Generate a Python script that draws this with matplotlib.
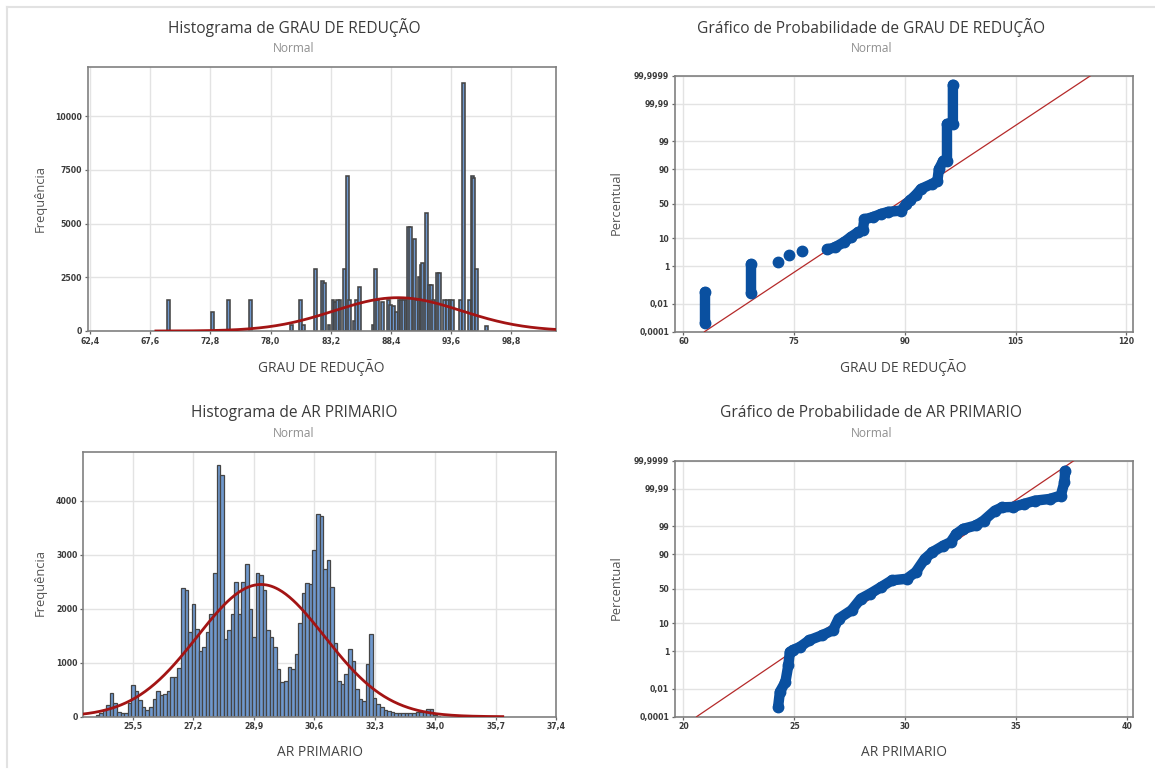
import numpy as np
import matplotlib
matplotlib.use("Agg")
import matplotlib.pyplot as plt
from matplotlib.lines import Line2D
from statistics import NormalDist

plt.rcParams['font.family'] = ['Open Sans', 'DejaVu Sans']

# ---- dados ----
# histograma GRAU DE REDUÇÃO (centro da barra, frequencia)
grau_centros = [69.2, 73.0, 74.4, 76.3, 79.8, 80.6, 80.85, 81.85, 82.5, 82.7, 83.05,
                83.4, 83.6, 83.8, 84.0, 84.4, 84.62, 84.85, 85.25, 85.45, 85.68,
                86.85, 87.05, 87.25, 87.7, 88.2, 88.4, 88.6, 88.85, 89.1, 89.3,
                89.5, 89.7, 89.9, 90.1, 90.4, 90.6, 90.83, 91.0, 91.12, 91.3,
                91.5, 91.7, 91.9, 92.1, 92.45, 92.62, 93.05, 93.27, 93.5, 93.72,
                94.43, 94.65, 95.22, 95.42, 95.55, 95.82, 96.68]
grau_freq = [1430, 870, 1430, 1430, 300, 1430, 300, 2880, 2350, 2250, 300,
             1430, 1350, 1430, 1430, 2880, 7230, 1430, 460, 1430, 2070,
             300, 2880, 1430, 1350, 1430, 1230, 1150, 870, 1430, 1430,
             1430, 1430, 4830, 4830, 4300, 1430, 2530, 3070, 3170, 1430,
             5480, 2150, 2150, 1430, 2690, 2690, 1430, 1430, 1430, 1430,
             1430, 11550, 1430, 7230, 7130, 2880, 230]

# histograma AR PRIMARIO (classes de 0,1)
ar_centros = [24.5, 24.6, 24.7, 24.8, 24.9, 25.0, 25.1, 25.2, 25.3, 25.4,
              25.5, 25.6, 25.7, 25.8, 25.9, 26.0, 26.1, 26.2, 26.3, 26.4,
              26.5, 26.6, 26.7, 26.8, 26.9, 27.0, 27.1, 27.2, 27.3, 27.4,
              27.5, 27.6, 27.7, 27.8, 27.9, 28.0, 28.1, 28.2, 28.3, 28.4,
              28.5, 28.6, 28.7, 28.8, 28.9, 29.0, 29.1, 29.2, 29.3, 29.4,
              29.5, 29.6, 29.7, 29.8, 29.9, 30.0, 30.1, 30.2, 30.3, 30.4,
              30.5, 30.6, 30.7, 30.8, 30.9, 31.0, 31.1, 31.2, 31.3, 31.4,
              31.5, 31.6, 31.7, 31.8, 31.9, 32.0, 32.1, 32.2, 32.3, 32.4,
              32.5, 32.6, 32.7, 32.8, 32.9, 33.0, 33.1, 33.2, 33.3, 33.4,
              33.5, 33.6, 33.7, 33.8, 33.9, 34.0, 34.1]
ar_freq = [30, 60, 120, 225, 440, 255, 80, 70, 70, 250,
           595, 485, 310, 175, 125, 185, 330, 485, 400, 420,
           485, 730, 730, 900, 2385, 2340, 1565, 2090, 1630, 1225,
           1290, 1565, 1895, 2660, 4660, 4475, 1440, 1600, 1905, 2495,
           1905, 2495, 2825, 2000, 1475, 2660, 2620, 2340, 1600, 1475,
           1290, 885, 640, 670, 915, 885, 1165, 1735, 2290, 2475,
           2465, 3095, 3750, 3720, 2740, 2900, 2400, 1360, 670, 605,
           790, 1255, 1040, 515, 330, 285, 980, 1525, 340, 235,
           175, 125, 100, 80, 70, 60, 60, 60, 60, 70,
           80, 90, 100, 150, 150, 40, 20]

# ajuste normal (media, desvio, altura do pico no histograma)
grau_media, grau_dp, grau_pico = 89.0, 5.5, 1550
ar_media, ar_dp, ar_pico = 29.1, 1.79, 2450

# grafico de probabilidade GRAU (grupos de pontos: x, percentual)
grau_prob_grupos = [
    ([62.9, 62.9], [0.00045, 0.054]),
    ([69.1, 69.1], [0.043, 1.3]),
    ([72.8], [1.5]),
    ([74.3], [2.8]),
    ([76.1], [4.0]),
    ([79.5, 80.5, 81.8, 82.7, 83.7, 84.3, 84.5, 85.7, 86.7, 87.7, 89.5, 90.2,
      90.7, 91.5, 92.2, 93.7, 94.4, 94.6, 95.2, 95.7, 95.7, 96.5, 96.5],
     [4.5, 5.2, 7.8, 10.9, 14.7, 16, 28, 31, 35, 38, 40, 50,
      55, 63, 71, 77, 80, 90, 94.5, 94.5, 99.85, 99.85, 99.9995]),
]

# grafico de probabilidade AR PRIMARIO
ar_prob_x = [24.27, 24.35, 24.6, 24.73, 24.8, 24.93, 25.26, 25.68, 26.26, 26.75,
             27.0, 27.58, 28.0, 28.41, 28.91, 29.4, 30.07, 30.48, 30.89, 31.23,
             31.72, 32.05, 32.3, 32.63, 33.2, 33.54, 34.04, 34.37, 34.87, 35.36,
             35.86, 36.52, 37.02, 37.18, 37.22]
ar_prob_pct = [0.0006, 0.0064, 0.027, 0.23, 0.94, 1.13, 1.54, 2.8, 4.2, 6.2,
               13.3, 21.2, 35.6, 42.5, 52.4, 62.2, 64.4, 73.2, 86.7, 91.3,
               94.5, 95.8, 97.9, 98.7, 99.06, 99.43, 99.81, 99.874, 99.88, 99.918,
               99.946, 99.957, 99.973, 99.996, 99.9994]

pct_ticks = [0.0001, 0.01, 1, 10, 50, 90, 99, 99.99, 99.9999]
pct_labels = ["0,0001", "0,01", "1", "10", "50", "90", "99", "99,99", "99,9999"]

# ---- figura ----
W, H = 1155, 769
fig = plt.figure(figsize=(W / 100, H / 100), dpi=100)

AZUL_BARRA = '#6f98cd'
CINZA_BORDA = '#454545'
VERMELHO = '#a31414'
AZUL_PONTO = '#0a50a0'
nd = NormalDist()


def eixo(x0, y0, x1, y1):
    ax = fig.add_axes([x0 / W, 1 - y1 / H, (x1 - x0) / W, (y1 - y0) / H])
    for s in ax.spines.values():
        s.set_color('#808080')
        s.set_linewidth(1.2)
    ax.grid(True, color='#e3e3e3', linewidth=1.0)
    ax.set_axisbelow(True)
    ax.tick_params(direction='out', length=2.5, width=0.9, color='#666666',
                   labelsize=5.6, labelcolor='#3a3a3a', pad=1.5)
    return ax


def fonte_ticks(ax):
    for t in ax.get_xticklabels() + ax.get_yticklabels():
        t.set_fontweight('bold')
        t.set_family('DejaVu Sans')


def virgula(v, casas=1):
    return f"{v:.{casas}f}".replace('.', ',')


def pct_para_z(p):
    p = np.clip(np.asarray(p, dtype=float), 1e-9, 100 - 1e-9)
    return np.vectorize(lambda v: nd.inv_cdf(v / 100), otypes=[float])(p)


def z_para_pct(z):
    return np.vectorize(lambda v: nd.cdf(v) * 100, otypes=[float])(np.asarray(z, dtype=float))


def textos(cx, ty, titulo, cxl, xl, yl_x, yl_y, ylabel, xlabel_y):
    fig.text(cx / W, 1 - ty / H, titulo, ha='center', va='center', fontsize=11.2, color='#3a3a3a')
    fig.text(cx / W, 1 - (ty + 21) / H, "Normal", ha='center', va='center', fontsize=8.6, color='#8f8f8f')
    fig.text(cxl / W, 1 - xlabel_y / H, xl, ha='center', va='center', fontsize=9.9, color='#444444')
    fig.text(yl_x / W, 1 - yl_y / H, ylabel, ha='center', va='center', rotation=90,
             fontsize=9.3, color='#555555')


def histograma(ax, centros, freq, largura, media, dp, pico, xlim, ylim, xt, yt, borda):
    ax.bar(centros, freq, width=largura, color=AZUL_BARRA, edgecolor=CINZA_BORDA,
           linewidth=borda, zorder=2)
    xs = np.linspace(media - 3.8 * dp, media + 3.8 * dp, 400)
    ax.plot(xs, pico * np.exp(-0.5 * ((xs - media) / dp) ** 2), color=VERMELHO,
            linewidth=2.0, zorder=3)
    ax.set_xlim(*xlim)
    ax.set_ylim(*ylim)
    ax.set_xticks(xt, [virgula(v) for v in xt])
    ax.set_yticks(yt, [str(v) for v in yt])
    fonte_ticks(ax)


def probabilidade(ax, grupos, media, dp, xlim, xt):
    ax.set_yscale('function', functions=(pct_para_z, z_para_pct))
    ax.set_ylim(0.0001, 99.9999)
    lx = [media + dp * nd.inv_cdf(p / 100) for p in (0.0001, 99.9999)]
    ax.plot(lx, [0.0001, 99.9999], color='#b52a2a', linewidth=0.9, zorder=3)
    for gx, gp in grupos:
        ax.plot(gx, gp, color=AZUL_PONTO, linewidth=7.5, marker='o', markersize=7.5,
                solid_capstyle='round', solid_joinstyle='round', zorder=4, clip_on=False)
    ax.set_xlim(*xlim)
    ax.set_xticks(xt, [str(v) for v in xt])
    ax.set_yticks(pct_ticks, pct_labels)
    ax.yaxis.set_minor_locator(matplotlib.ticker.NullLocator())
    fonte_ticks(ax)


# histograma GRAU DE REDUÇÃO
ax1 = eixo(87.7, 66.7, 556, 331)
histograma(ax1, grau_centros, grau_freq, 0.25, grau_media, grau_dp, grau_pico,
           (62.21, 102.66), (0, 12300),
           [62.4, 67.6, 72.8, 78.0, 83.2, 88.4, 93.6, 98.8], [0, 2500, 5000, 7500, 10000], 1.15)
textos(294, 28, "Histograma de GRAU DE REDUÇÃO", 321.5, "GRAU DE REDUÇÃO", 40.7, 198, "Frequência", 368)

# probabilidade GRAU DE REDUÇÃO
ax2 = eixo(674.6, 75.7, 1132.6, 331.7)
probabilidade(ax2, grau_prob_grupos, grau_media, grau_dp, (58.81, 120.84), [60, 75, 90, 105, 120])
textos(871.5, 28, "Gráfico de Probabilidade de GRAU DE REDUÇÃO", 903, "GRAU DE REDUÇÃO",
       616.7, 203, "Percentual", 368)

# histograma AR PRIMARIO
ax3 = eixo(83.2, 451.7, 556, 716.7)
histograma(ax3, ar_centros, ar_freq, 0.1, ar_media, ar_dp, ar_pico,
           (24.1, 37.4), (0, 4910),
           [25.5, 27.2, 28.9, 30.6, 32.3, 34.0, 35.7, 37.4], [0, 1000, 2000, 3000, 4000], 0.9)
textos(294, 413, "Histograma de AR PRIMARIO", 320, "AR PRIMARIO", 40.7, 583, "Frequência", 753)

# probabilidade AR PRIMARIO
ax4 = eixo(674.6, 460.7, 1132.6, 716.7)
probabilidade(ax4, [(ar_prob_x, ar_prob_pct)], ar_media, ar_dp, (19.6, 40.26), [20, 25, 30, 35, 40])
textos(871.5, 413, "Gráfico de Probabilidade de AR PRIMARIO", 904, "AR PRIMARIO",
       616.7, 588, "Percentual", 753)

# moldura clara do painel
fig.add_artist(Line2D([7 / W, 1], [1 - 6.5 / H, 1 - 6.5 / H], color='#e2e2e2', linewidth=1.5))
fig.add_artist(Line2D([7 / W, 7 / W], [1 - 6.5 / H, 1 - 767 / H], color='#e2e2e2', linewidth=1.5))

fig.savefig("out.png", dpi=100, facecolor='white')
